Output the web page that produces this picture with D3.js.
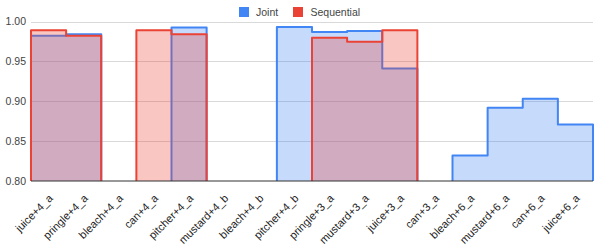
<!DOCTYPE html>
<html><head><meta charset="utf-8">
<script src="https://cdn.jsdelivr.net/npm/d3@7"></script>
<style>
html,body{margin:0;padding:0;background:#fff;}
svg{display:block;font-family:"Liberation Sans",Arial,sans-serif;}
</style></head>
<body>
<svg id="chart" width="598" height="250"></svg>
<script>
const categories = ["juice+4_a","pringle+4_a","bleach+4_a","can+4_a","pitcher+4_a","mustard+4_b","bleach+4_b","pitcher+4_b","pringle+3_a","mustard+3_a","juice+3_a","can+3_a","bleach+6_a","mustard+6_a","can+6_a","juice+6_a"];
const joint = [0.982,0.984,null,null,0.9925,null,null,0.993,0.9868,0.988,0.941,null,0.832,0.892,0.903,0.871];
const sequential = [0.989,0.982,null,0.989,0.984,null,null,null,0.9795,0.9745,0.989,null,null,null,null,null];
const yTicks = [0.80,0.85,0.90,0.95,1.00];
const seriesNames = ["Joint","Sequential"];
const colors = ["#4285F4","#EA4335"];

const svg = d3.select("#chart");
const x = d3.scaleBand().domain(categories).range([31,593]).padding(0);
const y = d3.scaleLinear().domain([0.8,1.0]).range([181,21.5]);

svg.append("g").selectAll("line").data(yTicks.slice(1)).join("line")
  .attr("x1",31).attr("x2",593)
  .attr("y1",d=>Math.round(y(d))+0.5).attr("y2",d=>Math.round(y(d))+0.5)
  .attr("stroke","#d9d9d9").attr("stroke-width",1);

svg.append("g").selectAll("text").data(yTicks).join("text")
  .attr("x",26).attr("y",d=>y(d)+3.8)
  .attr("text-anchor","end").attr("font-size","10.5px").attr("fill","#444")
  .text(d=>d.toFixed(2));

function runs(vals){
  const out=[]; let cur=null;
  vals.forEach((v,i)=>{
    if(v==null){ if(cur){out.push(cur);cur=null;} }
    else { if(!cur) cur=[]; cur.push(i); }
  });
  if(cur) out.push(cur);
  return out;
}

[joint,sequential].forEach((vals,si)=>{
  const g = svg.append("g");
  runs(vals).forEach(run=>{
    const pts=[];
    const x0 = x(categories[run[0]]);
    pts.push([x0,y(0.8)]);
    run.forEach(i=>{
      const xs=x(categories[i]), xe=xs+x.bandwidth();
      pts.push([xs,y(vals[i])]); pts.push([xe,y(vals[i])]);
    });
    const last = run[run.length-1];
    pts.push([x(categories[last])+x.bandwidth(),y(0.8)]);
    const line = d3.line();
    g.append("path").attr("d",line(pts)+"Z")
      .attr("fill",colors[si]).attr("fill-opacity",0.3).attr("stroke","none");
    g.append("path").attr("d",line(pts))
      .attr("fill","none").attr("stroke",colors[si]).attr("stroke-width",2)
      .attr("stroke-linejoin","round");
  });
});

svg.append("line").attr("x1",31).attr("x2",593)
  .attr("y1",y(0.8)).attr("y2",y(0.8)).attr("stroke","#333").attr("stroke-width",1.2);

svg.append("g").selectAll("text").data(categories).join("text")
  .attr("transform",d=>`translate(${x(d)+x.bandwidth()/2+5},${199}) rotate(-45)`)
  .attr("text-anchor","end").attr("font-size","11px").attr("fill","#222")
  .text(d=>d);

const legX=[239,293], legTX=[256,310.5];
seriesNames.forEach((n,i)=>{
  svg.append("rect").attr("x",legX[i]).attr("y",7).attr("width",10).attr("height",10)
    .attr("fill",colors[i]);
  svg.append("text").attr("x",legTX[i]).attr("y",16).attr("font-size","10.5px")
    .attr("fill","#444").text(n);
});
</script>
</body></html>
